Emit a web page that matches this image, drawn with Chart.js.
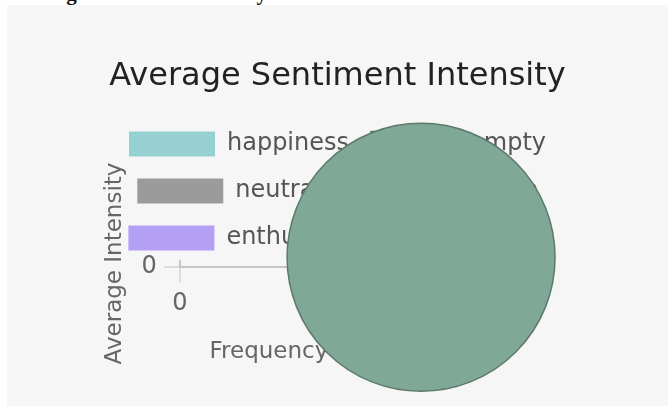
<!DOCTYPE html>
<html>
<head>
<meta charset="utf-8">
<script src="https://cdn.jsdelivr.net/npm/chart.js@4/dist/chart.umd.min.js"></script>
<style>
  html, body { margin: 0; padding: 0; background: #fff; overflow: hidden; }
  #head {
    position: absolute; left: 13px; top: -17px; margin: 0; z-index: 2;
    font: bold 21px/20px "Liberation Serif", serif; color: #111; white-space: nowrap;
  }
  #panel { position: absolute; left: 7px; top: 5px; width: 661px; height: 401px; background: #f6f6f6; }
</style>
</head>
<body>
<h3 id="head">Average Sentiment Intensity</h3>
<div id="panel"><canvas id="chart" width="661" height="401"></canvas></div>
<script>
// sentiment classes, one bubble each
var sentiments = ['happiness', 'empty', 'neutral', 'surprise', 'enthusiasm', 'relief'];
var frequency  = [1200, 1354, 1500, 1250, 1420, 1300];
var intensity  = [1.2, 1.5, 1.3, 1.1, 1.4, 1.3];
var radius     = [60, 134, 70, 55, 65, 50];
var fills      = ['#96d0d3', '#7fa897', '#9b9b9b', '#f2a0b0', '#b3a0f5', '#f5c98a'];
var borders    = ['#96d0d3', '#5c7a6c', '#9b9b9b', '#f2a0b0', '#b3a0f5', '#f5c98a'];

var xTicks = [0];
var yTicks = [0];

var font = 'DejaVu Sans';

var datasets = sentiments.map(function (s, i) {
    return {
        label: s,
        data: [{ x: frequency[i], y: intensity[i], r: radius[i] }],
        backgroundColor: fills[i],
        borderColor: borders[i],
        borderWidth: i === 1 ? 1.5 : 0,
        clip: false,
        // big "empty" bubble is drawn last, on top of the others
        order: i === 1 ? 0 : 1
    };
});

function keepTicks(list) {
    return function (scale) {
        scale.ticks = scale.ticks.filter(function (t) { return list.indexOf(t.value) >= 0; });
    };
}

new Chart(document.getElementById('chart'), {
    type: 'bubble',
    data: { datasets: datasets },
    options: {
        responsive: false,
        animation: false,
        events: [],
        layout: { padding: { left: 20, right: 20, top: 0, bottom: 40 } },
        plugins: {
            title: {
                display: true,
                text: 'Average Sentiment Intensity',
                color: '#222',
                font: { family: font, size: 32, weight: 'normal' },
                padding: { top: 52, bottom: 14 }
            },
            legend: {
                labels: {
                    color: '#555',
                    font: { family: font, size: 24 },
                    boxWidth: 86,
                    boxHeight: 25,
                    padding: 22,
                    // keep dataset order in the legend, not draw order
                    sort: function (a, b) { return a.datasetIndex - b.datasetIndex; }
                }
            },
            tooltip: { enabled: false }
        },
        scales: {
            x: {
                type: 'linear',
                min: 0,
                max: 1000,
                afterBuildTicks: keepTicks(xTicks),
                grid: { lineWidth: 2, tickLength: 16 },
                border: { width: 2 },
                ticks: { color: '#666', padding: 7, font: { family: font, size: 24 } },
                title: {
                    display: true, text: 'Frequency', color: '#666',
                    font: { family: font, size: 23 }, padding: { top: 13, bottom: 0 }
                }
            },
            y: {
                type: 'linear',
                min: 0,
                max: 1,
                afterBuildTicks: keepTicks(yTicks),
                grid: { lineWidth: 2, tickLength: 16 },
                border: { width: 2 },
                ticks: { color: '#666', padding: 7, font: { family: font, size: 24 } },
                title: {
                    display: true, text: 'Average Intensity', color: '#666',
                    font: { family: font, size: 23 }, padding: { top: 74, bottom: 6 }
                }
            },
            // empty space on the right, the plot area is narrow in the original
            spacer: {
                type: 'linear',
                position: 'right',
                display: false,
                afterFit: function (s) { s.width = 290; }
            }
        }
    }
});
</script>
</body>
</html>
